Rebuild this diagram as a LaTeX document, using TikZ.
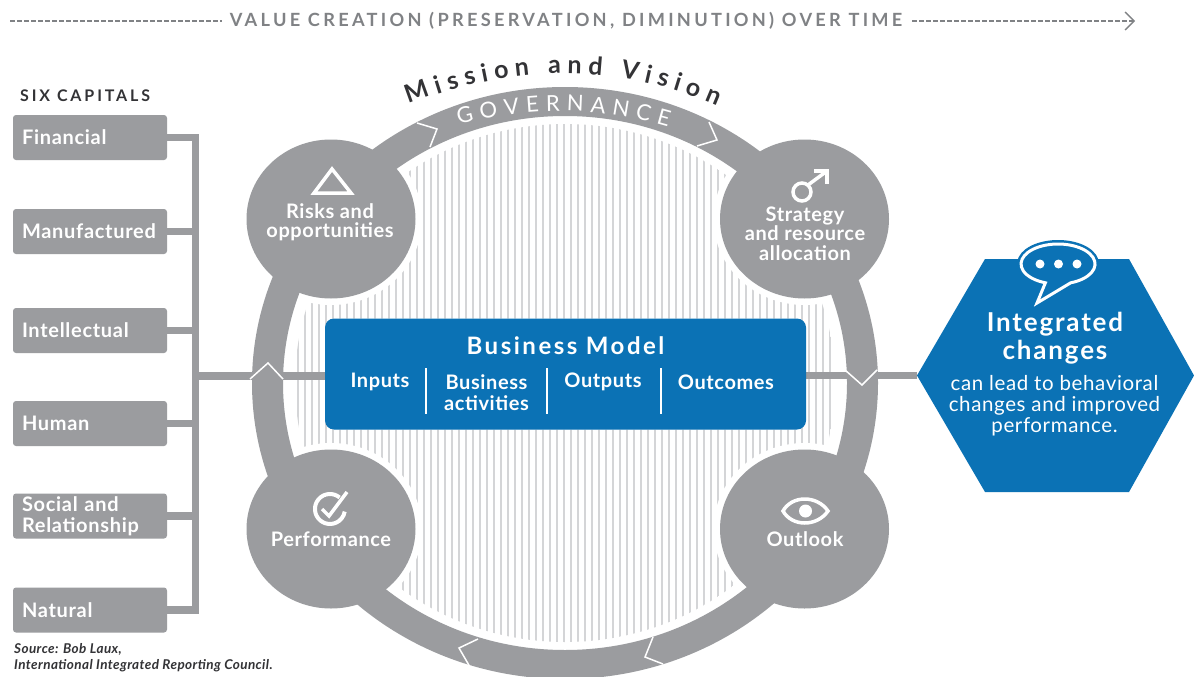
\documentclass[tikz,border=0pt]{standalone}
\usepackage{fontspec}
\setmainfont{Lato}
\newfontfamily\wide[LetterSpace=3.5]{Lato}
\newfontfamily\stagew[LetterSpace=3]{Lato}
\newfontfamily\wider[LetterSpace=7]{Lato}
\newfontfamily\xwide[LetterSpace=10.5]{Lato}
\newfontfamily\spaced[LetterSpace=18]{Lato}
\newfontfamily\sixsp[LetterSpace=18]{Lato}
\usetikzlibrary{decorations.text,shapes.geometric}
\definecolor{ringgray}{HTML}{9B9C9F}
\definecolor{hatchgray}{HTML}{D4D5D7}
\definecolor{hexblue}{HTML}{0B72B5}
\definecolor{headgray}{HTML}{808285}
\definecolor{inkdark}{HTML}{333336}
\tikzset{
  capbox/.style={fill=ringgray,rounded corners=3pt,minimum width=154pt,minimum height=45pt,text width=136pt,inner xsep=9pt,inner ysep=0pt,align=left,text=white,font=\bfseries\wide\fontsize{20}{21}\selectfont},
  conn/.style={draw=ringgray,line width=7.5pt},
  stage/.style={ellipse,fill=ringgray,minimum width=169pt,minimum height=159pt,inner sep=0pt},
  stagetxt/.style={text=white,align=center,inner sep=0pt,font=\bfseries\stagew\fontsize{20}{19.5}\selectfont},
  bmtxt/.style={text=white,align=center,inner sep=0pt,font=\bfseries\stagew\fontsize{20}{21}\selectfont},
  divider/.style={draw=white,line width=1.6pt},
  notch/.style={draw=white,line width=1.5pt,line join=miter},
  icon/.style={draw=white,line width=3.5pt},
  headdash/.style={draw=headgray,line width=1.4pt,dash pattern=on 5pt off 2pt},
}
\begin{document}
\begin{tikzpicture}[x=1pt,y=-1pt]
\clip (0,0) rectangle (1194,677);
\fill[white] (0,0) rectangle (1194,677);
\coordinate (c) at (565,383);

% header
\node[inner sep=0pt,anchor=center,text=headgray,font=\bfseries\spaced\fontsize{18.2}{20}\selectfont] (head) at (566,21) {VALUE CREATION (PRESERVATION, DIMINUTION) OVER TIME};
\coordinate (hl) at (10,21);
\coordinate (hr) at (1134,21);
\draw[headdash] (hl) -- (222,21);
\draw[headdash] (912,21) -- (hr);
\draw[draw=headgray,line width=1.4pt] (1125,12) -- (hr) -- (1125,30);

% hatching
\begin{scope}
\clip (c) ellipse[x radius=270,y radius=259];
\foreach \x in {291,298,...,840} \draw[hatchgray,line width=2pt] (\x,110) -- (\x,660);
\end{scope}
\foreach \p in {(331,219),(804.5,219),(331,529),(804.5,529)} \fill[white] \p ellipse[x radius=91,y radius=86];

% capital boxes
\node[inkdark,inner sep=0pt,anchor=west,font=\bfseries\sixsp\fontsize{16}{18}\selectfont] (sixt) at (20,96) {SIX CAPITALS};
\node[capbox] (fin) at (90,137.5) {Financial};
\node[capbox] (man) at (90,231.5) {Manufactured};
\node[capbox] (int) at (90,330.5) {Intellectual};
\node[capbox] (hum) at (90,423.5) {Human};
\node[capbox,font=\bfseries\wide\fontsize{20}{21.5}\selectfont] (soc) at (90,516) {Social and\\Relationship};
\node[capbox] (nat) at (90,610) {Natural};

% connectors
\coordinate (tj) at (195.5,376);
\draw[conn,line join=miter] (fin.east) -- (195.5,137.5) -- (195.5,610) -- (nat.east);
\draw[conn] (man.east) -- (195.5,231.5);
\draw[conn] (int.east) -- (195.5,330.5);
\draw[conn] (hum.east) -- (195.5,423.5);
\draw[conn] (soc.east) -- (195.5,516);

% central box
\node[fill=hexblue,draw=white,line width=1pt,rounded corners=9pt,minimum width=480pt,minimum height=110pt,inner sep=0pt] (bm) at (565.5,374) {};
\coordinate (hexw) at (917,375.5);
\draw[conn] (tj) -- (bm.west |- tj);
\draw[conn] (bm.east |- hexw) -- (hexw);

% ring
\fill[ringgray,even odd rule] (c) ellipse[x radius=313,y radius=296] (c) ellipse[x radius=282,y radius=267];

% stages
\node[stage] (risk) at (331,219) {};
\node[stage] (strat) at (804.5,219) {};
\node[stage] (perf) at (331,529) {};
\node[stage] (out) at (804.5,529) {};

% ring notches
\draw[notch] (417,123) -- (437,129) -- (430,147);
\draw[notch] (709,122) -- (717,140) -- (697,146);
\draw[notch] (478,639) -- (459,648) -- (470,667);
\draw[notch] (653,637) -- (645,657) -- (663,664);
\draw[notch] (250,379) -- (268,363) -- (283,379);
\draw[notch] (845,370) -- (862,385) -- (877,370);

% curved texts
\path[decorate,decoration={text along path,text align={fit to path},text={|\fontsize{22}{24}\selectfont\color{white}|GOVERNANCE}}] (459,125) .. controls (527,106) and (596,106) .. (668,127);
\path[decorate,decoration={text along path,text align={fit to path},text={|\fontsize{25}{28}\selectfont\bfseries\color{inkdark}|Mission and Vision}}] (409,104) .. controls (516,63) and (618,63) .. (717,106);

% blue box content
\fill[hexblue,rounded corners=9pt] (bm.north west) rectangle (bm.south east);
\node[text=white,inner sep=0pt,font=\bfseries\xwide\fontsize{24}{26}\selectfont] (bmt) at (565.5,346) {Business Model};
\node[bmtxt] (b1) at (380,382) {Inputs};
\node[bmtxt] (b2) at (486.5,392.5) {Business\\activities};
\node[bmtxt] (b3) at (603,382) {Outputs};
\node[bmtxt] (b4) at (726,382) {Outcomes};
\draw[divider] (426,368) -- (426,414);
\draw[divider] (547,368) -- (547,414);
\draw[divider] (661,368) -- (661,414);

% stage icons and labels
\draw[icon,line join=miter] (332,169) -- (351,193) -- (314,193) -- cycle;
\node[stagetxt] (riskt) at (330,222) {Risks and\\opportunities};
\draw[icon] (802,192) circle[radius=9];
\draw[icon] (808,185) -- (827,171);
\draw[icon,line join=miter] (814,171) -- (827,171) -- (827,184);
\node[stagetxt] (stratt) at (805,233.5) {Strategy\\and resource\\allocation};
\draw[icon,line width=4pt] (339.6,497.5) arc[start angle=-50,end angle=-350,radius=15];
\draw[icon,line join=miter] (322,509) -- (329,516) -- (347,492);
\node[stagetxt] (perft) at (331,539) {Performance};
\draw[icon] (783,511) .. controls (792,495) and (817,495) .. (828,511) .. controls (817,527) and (792,527) .. (783,511) -- cycle;
\fill[white] (805.5,511) circle[radius=6.5];
\node[stagetxt] (outt) at (805,539) {Outlook};

% hexagon
\fill[hexblue] (985,259) -- (1129,259) -- (1194,375.5) -- (1129,492) -- (985,492) -- (917,375.5) -- cycle;
\def\bubble{(1070.7,282.8) arc[start angle=70,end angle=-250,x radius=37,y radius=20] -- (1037,303) -- cycle}
\draw[hexblue,line width=8pt,line join=round] \bubble;
\draw[white,fill=hexblue,line width=3pt,line join=miter] \bubble;
\foreach \x in {1040,1058.5,1077} \fill[white] (\x,264) circle[radius=4.5];
\node[text=white,align=center,inner sep=0pt,font=\bfseries\wider\fontsize{26}{28}\selectfont] (hext) at (1055,338) {Integrated\\changes};
\node[text=white,align=center,inner sep=0pt,font=\stagew\fontsize{20.5}{21}\selectfont] (hexd) at (1054.5,406) {can lead to behavioral\\changes and improved\\performance.};

% source
\node[inkdark,anchor=north west,align=left,inner sep=0pt,font=\itshape\bfseries\stagew\fontsize{13.5}{16}\selectfont] (src) at (14,643) {Source: Bob Laux,\\International Integrated Reporting Council.};
\end{tikzpicture}
\end{document}
